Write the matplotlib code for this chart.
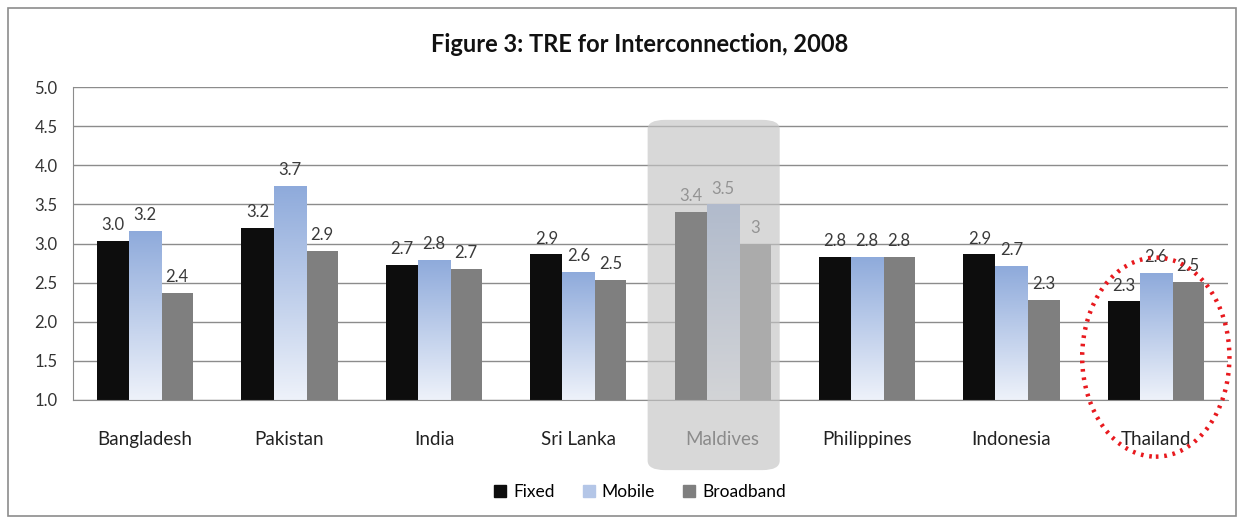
import matplotlib
matplotlib.use("Agg")
import matplotlib.pyplot as plt
import numpy as np
from matplotlib.patches import FancyBboxPatch, Ellipse, Rectangle
from matplotlib.colors import LinearSegmentedColormap

countries = ["Bangladesh", "Pakistan", "India", "Sri Lanka", "Maldives",
             "Philippines", "Indonesia", "Thailand"]
fixed = [3.03, 3.20, 2.73, 2.86, 3.40, 2.83, 2.86, 2.26]
mobile = [3.16, 3.74, 2.79, 2.64, 3.50, 2.83, 2.71, 2.62]
broadband = [2.37, 2.90, 2.67, 2.53, 3.00, 2.83, 2.28, 2.51]
fixed_labels = ["3.0", "3.2", "2.7", "2.9", "3.4", "2.8", "2.9", "2.3"]
mobile_labels = ["3.2", "3.7", "2.8", "2.6", "3.5", "2.8", "2.7", "2.6"]
broadband_labels = ["2.4", "2.9", "2.7", "2.5", "3", "2.8", "2.3", "2.5"]
series_names = ["Fixed", "Mobile", "Broadband"]
yticks = [1.0, 1.5, 2.0, 2.5, 3.0, 3.5, 4.0, 4.5, 5.0]

plt.rcParams['font.family'] = ['Lato', 'DejaVu Sans']

fig = plt.figure(figsize=(12.43, 5.21), dpi=100)
ax = fig.add_axes([73/1243, 1-400/521, (1228-73)/1243, (400-87)/521])

x = np.arange(len(countries))
w = 0.222
c_fixed = "#0d0d0d"
c_mob = "#8eaadb"
c_bb = "#7f7f7f"

ax.set_ylim(1.0, 5.0)
ax.set_xlim(-0.5, len(countries) - 0.5)
ax.set_yticks(yticks)
ax.set_yticklabels([f"{v:.1f}" for v in yticks])
ax.yaxis.grid(True, color="#8c8c8c", linewidth=1.0)
ax.set_axisbelow(True)

b1 = ax.bar(x - w, np.array(fixed) - 1.0, w, bottom=1.0, color=c_fixed, zorder=2)
b2 = ax.bar(x, np.array(mobile) - 1.0, w, bottom=1.0, color=c_mob, zorder=2)
b3 = ax.bar(x + w, np.array(broadband) - 1.0, w, bottom=1.0, color=c_bb, zorder=2)

# gradient fill on mobile bars
cmap = LinearSegmentedColormap.from_list("mob", ["#eef2fa", "#8eaadb"])
grad = np.linspace(0, 1, 256).reshape(-1, 1)
for r in b2:
    x0, y0 = r.get_x(), r.get_y()
    im = ax.imshow(grad, cmap=cmap, origin="lower", aspect="auto",
                   extent=[x0, x0 + r.get_width(), y0, y0 + r.get_height()],
                   zorder=2.5)
    im.set_clip_path(r)
ax.set_xlim(-0.5, len(countries) - 0.5)
ax.set_ylim(1.0, 5.0)

for bars, labs in [(b1, fixed_labels), (b2, mobile_labels), (b3, broadband_labels)]:
    for r, lab in zip(bars, labs):
        ax.text(r.get_x() + r.get_width()/2, r.get_y() + r.get_height() + 0.1, lab,
                ha="center", va="bottom", fontsize=12, color="#3a3a3a", zorder=4)

ax.set_xticks(x)
ax.set_xticklabels(countries, fontsize=13.5, color="#222222")
ax.tick_params(axis="x", length=0, pad=22)
ax.tick_params(axis="y", length=0, pad=11, labelsize=12, labelcolor="#333333")
for s in ["top", "right"]:
    ax.spines[s].set_visible(False)
ax.spines["left"].set_color("#8c8c8c")
ax.spines["bottom"].set_color("#8c8c8c")

# Maldives highlight overlay
mi = countries.index("Maldives")
trans = ax.get_xaxis_transform()
hl = FancyBboxPatch((mi - 0.52, -0.224), 0.915, 1.119,
                    boxstyle="round,pad=0,rounding_size=0.12",
                    mutation_aspect=0.25,
                    transform=trans, clip_on=False,
                    facecolor="#c4c4c4", edgecolor="none", alpha=0.65, zorder=5)
ax.add_patch(hl)

# Thailand dotted ellipse
ti = countries.index("Thailand")
el = Ellipse((ti, 0.137), 1.02, 0.636, transform=trans, clip_on=False,
             fill=False, edgecolor="#e8191e", linewidth=3.2,
             linestyle=(0, (0.6, 1.3)), zorder=6)
ax.add_patch(el)

fig.text(640/1243, 1-45/521, "Figure 3: TRE for Interconnection, 2008",
         ha="center", va="center", fontsize=17, fontweight="bold", color="#111111")

handles = [Rectangle((0, 0), 1, 1, color=c) for c in [c_fixed, "#b4c6e7", c_bb]]
fig.legend(handles, series_names, loc="center", bbox_to_anchor=(640/1243, 1-492/521),
           ncol=3, frameon=False, fontsize=12.5, handlelength=0.7, handleheight=0.7,
           handletextpad=0.4, columnspacing=1.6)

fig.patches.append(Rectangle((8/1243, 1-516/521), (1236-8)/1243, (516-8)/521,
                             transform=fig.transFigure, fill=False,
                             edgecolor="#8c8c8c", linewidth=1.2))

fig.savefig("out.png", dpi=100)
